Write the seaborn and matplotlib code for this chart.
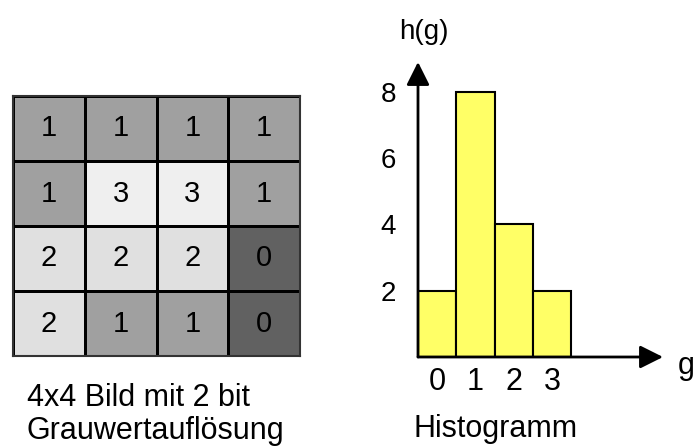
import matplotlib
matplotlib.use("Agg")
import matplotlib.pyplot as plt
from matplotlib.colors import ListedColormap
import seaborn as sns
import numpy as np

# --- data ---
image = [[1, 1, 1, 1],
         [1, 3, 3, 1],
         [2, 2, 2, 0],
         [2, 1, 1, 0]]
gray_levels = [0, 1, 2, 3]
counts = [2, 8, 4, 2]
y_ticks = [2, 4, 6, 8]
gray_colors = ["#616161", "#a0a0a0", "#e0e0e0", "#efefef"]  # for g = 0..3

sns.set_style("white")
plt.rcParams["font.family"] = ["Liberation Sans", "DejaVu Sans"]
plt.rcParams["text.color"] = "black"
plt.rcParams["xtick.color"] = "black"
plt.rcParams["ytick.color"] = "black"
plt.rcParams["xtick.labelcolor"] = "black"
plt.rcParams["ytick.labelcolor"] = "black"

W, H = 694, 446
fig = plt.figure(figsize=(W / 100, H / 100), dpi=100)

def box(x0, y0, x1, y1):
    return [x0 / W, 1 - y1 / H, (x1 - x0) / W, (y1 - y0) / H]

# --- left: the 4x4 image ---
ax1 = fig.add_axes(box(13, 96, 300, 356))
sns.heatmap(np.array(image), ax=ax1, cmap=ListedColormap(gray_colors),
            vmin=-0.5, vmax=3.5, cbar=False, annot=True, fmt="d",
            annot_kws={"size": 21, "color": "black"},
            linewidths=1.8, linecolor="black", square=False)
ax1.set_xticks([])
ax1.set_yticks([])
for s in ax1.spines.values():
    s.set_visible(True)
    s.set_color("#333333")
    s.set_linewidth(1.5)

# --- right: the histogram ---
ax2 = fig.add_axes(box(418, 62, 663, 357))
sns.barplot(x=gray_levels, y=counts, ax=ax2, color="#ffff66", saturation=1,
            width=1, edgecolor="black", linewidth=1.5, zorder=2)
ax2.set_xlim(-0.5, 5.9)
ax2.set_ylim(0, 8.9)
ax2.set_yticks(y_ticks)
ax2.set_yticklabels([str(t) for t in y_ticks])
ax2.set_xticks(range(len(gray_levels)))
ax2.set_xticklabels([str(g) for g in gray_levels])
ax2.tick_params(axis="y", length=0, pad=16, labelsize=20, labelcolor="black")
ax2.tick_params(axis="x", length=0, pad=7, labelsize=22, labelcolor="black")
ax2.set_xlabel("")
ax2.set_ylabel("")
for s in ax2.spines.values():
    s.set_visible(False)
arrow = dict(arrowstyle="-|>,head_length=0.7,head_width=0.35", color="black",
             lw=2, mutation_scale=20, shrinkA=0, shrinkB=0)
ax2.annotate("", xy=(1, 0), xytext=(0, 0), xycoords="axes fraction",
             textcoords="axes fraction", arrowprops=arrow, annotation_clip=False)
ax2.annotate("", xy=(0, 1), xytext=(0, 0), xycoords="axes fraction",
             textcoords="axes fraction", arrowprops=arrow, annotation_clip=False)

# --- texts ---
def ftext(x, y, s, **kw):
    fig.text(x / W, 1 - y / H, s, color="black", **kw)

ftext(424, 32, "h(g)", ha="center", va="center", fontsize=20)
ftext(678, 366, "g", ha="left", va="center", fontsize=22)
ftext(496, 437, "Histogramm", ha="center", va="baseline", fontsize=22)
ftext(27, 406, "4x4 Bild mit 2 bit", ha="left", va="baseline", fontsize=22)
ftext(27, 439, "Grauwertauflösung", ha="left", va="baseline", fontsize=22)

fig.savefig("out.png", dpi=100)
